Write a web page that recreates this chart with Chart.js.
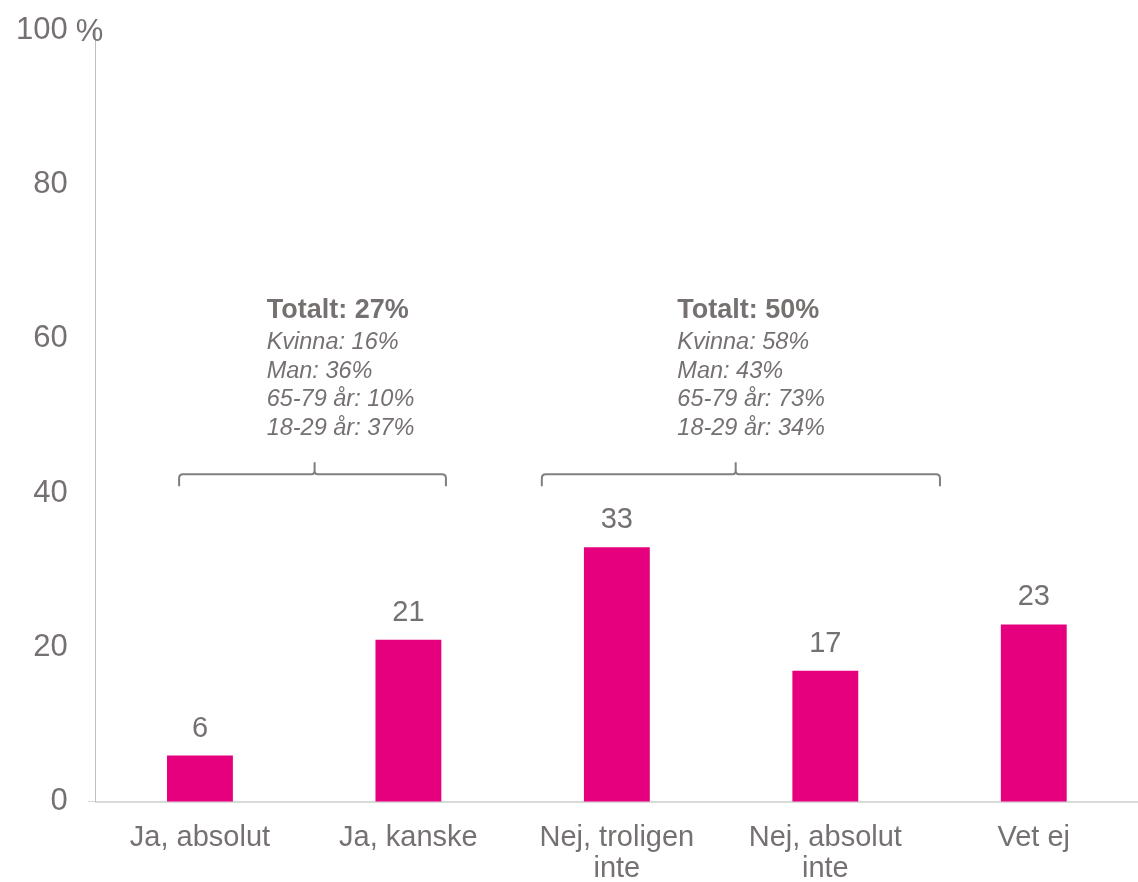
<!DOCTYPE html>
<html>
<head>
<meta charset="utf-8">
<script src="https://cdn.jsdelivr.net/npm/chart.js@4"></script>
<style>
  html, body { margin: 0; padding: 0; background: #fff; }
  #container { width: 1138px; height: 882px; }
</style>
</head>
<body>
<div id="container"><canvas id="myChart"></canvas></div>
<script>
// data
let categories = [['Ja, absolut'], ['Ja, kanske'], ['Nej, troligen', 'inte'], ['Nej, absolut', 'inte'], ['Vet ej']];
let values = [6, 21, 33, 17, 23];
let yTicks = [0, 20, 40, 60, 80, 100];

// group notes (bracket left, right, middle and text start, in category units)
let groupSpans = [[-0.10, 1.18, 0.55, 0.32], [1.64, 3.55, 2.57, 2.29]];
let groupTitles = ['Totalt: 27%', 'Totalt: 50%'];
let groupLines = [
  ['Kvinna: 16%', 'Man: 36%', '65-79 år: 10%', '18-29 år: 37%'],
  ['Kvinna: 58%', 'Man: 43%', '65-79 år: 73%', '18-29 år: 34%']
];

let barColor = '#E6007E';
let textColor = '#767171';
let fontFamily = '"Liberation Sans", Arial, sans-serif';

let extras = {
  id: 'extras',
  afterDatasetsDraw(chart) {
    let ctx = chart.ctx;
    let x = chart.scales.x, y = chart.scales.y;
    let meta = chart.getDatasetMeta(0);
    ctx.save();
    ctx.fillStyle = textColor;
    ctx.font = '29px ' + fontFamily;
    ctx.textAlign = 'center';
    ctx.textBaseline = 'alphabetic';
    meta.data.forEach((bar, i) => {
      ctx.fillText(values[i], bar.x, bar.y - 19);
    });

    // percent sign next to top tick
    ctx.font = '31px ' + fontFamily;
    ctx.textAlign = 'left';
    ctx.fillText('%', chart.chartArea.left - 20, y.getPixelForValue(100) + 11);

    // brackets + text
    let step = x.getPixelForValue(1) - x.getPixelForValue(0);
    let x0 = x.getPixelForValue(0);
    let by = y.getPixelForValue(40) - 19;
    groupSpans.forEach((s, g) => {
      let l = x0 + s[0] * step, r = x0 + s[1] * step, c = x0 + s[2] * step;
      ctx.strokeStyle = '#7f7f7f';
      ctx.lineWidth = 2;
      ctx.beginPath();
      ctx.moveTo(l, by + 12);
      ctx.lineTo(l, by + 4);
      ctx.quadraticCurveTo(l, by, l + 4, by);
      ctx.lineTo(c - 3, by);
      ctx.quadraticCurveTo(c, by, c, by - 4);
      ctx.lineTo(c, by - 12);
      ctx.moveTo(c, by - 4);
      ctx.quadraticCurveTo(c, by, c + 3, by);
      ctx.lineTo(r - 4, by);
      ctx.quadraticCurveTo(r, by, r, by + 4);
      ctx.lineTo(r, by + 12);
      ctx.stroke();

      let tx = x0 + s[3] * step;
      ctx.fillStyle = textColor;
      ctx.textAlign = 'left';
      ctx.font = 'bold 27px ' + fontFamily;
      ctx.fillText(groupTitles[g], tx, by - 156);
      ctx.font = 'italic 23.5px ' + fontFamily;
      groupLines[g].forEach((t, k) => {
        ctx.fillText(t, tx, by - 125 + k * 28.5);
      });
    });
    ctx.restore();
  }
};

let ctx = document.getElementById('myChart').getContext('2d');
let chart = new Chart(ctx, {
  type: 'bar',
  data: {
    labels: categories,
    datasets: [{
      data: values,
      backgroundColor: barColor,
      barPercentage: 0.316,
      categoryPercentage: 1
    }]
  },
  options: {
    responsive: true,
    maintainAspectRatio: false,
    animation: false,
    layout: { padding: { top: 30, left: -4, right: -5, bottom: -24 } },
    plugins: { legend: { display: false }, tooltip: { enabled: false } },
    scales: {
      x: {
        grid: { display: false, drawTicks: false },
        border: { color: '#d9d9d9', width: 2 },
        ticks: {
          color: textColor,
          font: { size: 29, family: fontFamily, lineHeight: 1.07 },
          padding: 21,
          maxRotation: 0
        }
      },
      y: {
        min: 0, max: 100,
        afterBuildTicks(axis) { axis.ticks = yTicks.map(v => ({ value: v })); },
        grid: {
          drawOnChartArea: false,
          tickLength: 8,
          tickColor: c => c.tick && c.tick.value === 0 ? '#d9d9d9' : 'rgba(0,0,0,0)'
        },
        border: { color: '#bfbfbf', width: 1 },
        ticks: { color: textColor, font: { size: 31, family: fontFamily, lineHeight: 0.5 }, padding: 20 }
      }
    }
  },
  plugins: [extras]
});
</script>
</body>
</html>
